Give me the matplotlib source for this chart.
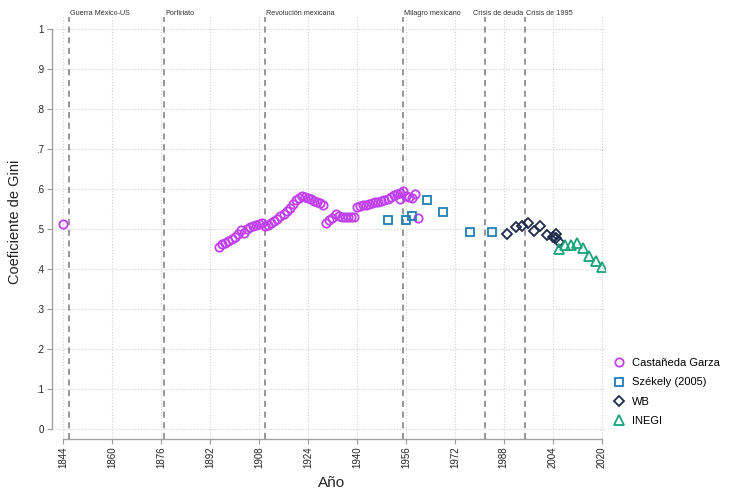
import matplotlib
matplotlib.use("Agg")
import matplotlib.pyplot as plt

plt.rcParams["font.family"] = ["Liberation Sans", "DejaVu Sans"]

# Castañeda Garza
cg_years = [1844,
            1895, 1896, 1897, 1898, 1899, 1900, 1901, 1902, 1903, 1904,
            1905, 1906, 1907, 1908, 1909, 1910, 1911, 1912, 1913, 1914,
            1915, 1916, 1917, 1918, 1919, 1920, 1921, 1922, 1923, 1924,
            1925, 1926, 1927, 1928, 1929, 1930, 1931, 1932, 1933, 1934,
            1935, 1936, 1937, 1938, 1939, 1940, 1941, 1942, 1943, 1944,
            1945, 1946, 1947, 1948, 1949, 1950, 1951, 1952, 1953, 1954,
            1955, 1954, 1956, 1957, 1958, 1959, 1960]
cg_gini = [0.512,
           0.455, 0.463, 0.466, 0.469, 0.475, 0.480, 0.487, 0.497, 0.490, 0.500,
           0.506, 0.508, 0.509, 0.513, 0.516, 0.508, 0.511, 0.515, 0.520, 0.526,
           0.532, 0.538, 0.545, 0.553, 0.563, 0.573, 0.577, 0.583, 0.579, 0.577,
           0.574, 0.571, 0.568, 0.565, 0.561, 0.515, 0.522, 0.527, 0.537, 0.532,
           0.530, 0.529, 0.529, 0.529, 0.529, 0.555, 0.557, 0.559, 0.561, 0.563,
           0.565, 0.567, 0.568, 0.570, 0.573, 0.576, 0.580, 0.585, 0.588, 0.590,
           0.596, 0.574, 0.582, 0.580, 0.578, 0.587, 0.528]

# Székely (2005)
sz_years = [1950, 1956, 1958, 1963, 1968, 1977, 1984]
sz_gini = [0.522, 0.522, 0.533, 0.573, 0.543, 0.492, 0.492]

# World Bank
wb_years = [1989, 1992, 1994, 1996, 1998, 2000, 2002, 2004, 2005, 2005, 2006]
wb_gini = [0.487, 0.506, 0.507, 0.514, 0.496, 0.507, 0.485, 0.481, 0.487, 0.478, 0.468]

# INEGI
inegi_years = [2006, 2008, 2010, 2012, 2014, 2016, 2018, 2020]
inegi_gini = [0.449, 0.460, 0.460, 0.464, 0.452, 0.432, 0.421, 0.406]

events = ["Guerra México-US", "Porfiriato", "Revolución mexicana",
          "Milagro mexicano", "Crisis de deuda", "Crisis de 1995"]
event_years = [1846, 1877, 1910, 1955, 1982, 1995]
# where each label starts (the debt-crisis label sits left of its line)
label_years = [1846, 1877, 1910, 1955, 1977.6, 1995]

x_ticks = list(range(1844, 2021, 16))
y_ticks = [0, 0.1, 0.2, 0.3, 0.4, 0.5, 0.6, 0.7, 0.8, 0.9, 1]
y_labels = ["0", ".1", ".2", ".3", ".4", ".5", ".6", ".7", ".8", ".9", "1"]

fig = plt.figure(figsize=(7.32, 4.96), dpi=100)
ax = fig.add_axes([0.0706, 0.1149, 0.7559, 0.8508])

ax.set_xlim(1840.2, 2021.1)
ax.set_ylim(-0.025, 1.03)

ax.grid(True, linestyle=":", color="#cfcfcf", linewidth=0.8)
ax.set_axisbelow(True)

for yr in event_years:
    ax.axvline(yr, color="#7a7a7a", linestyle=(0, (4, 3)), linewidth=1.1, zorder=1)
for name, yr in zip(events, label_years):
    ax.text(yr + 0.3, 1.038, name, fontsize=5.2, color="#333333",
            ha="left", va="center", clip_on=False)

mk = dict(linestyle="none", mfc="none", mew=1.3, zorder=3)
ax.plot(cg_years, cg_gini, marker="o", ms=6, color="#c040f0",
        label="Castañeda Garza", **mk)
ax.plot(sz_years, sz_gini, marker="s", ms=6, color="#1f7fb8",
        label="Székely (2005)", **mk)
ax.plot(wb_years, wb_gini, marker="D", ms=5.5, color="#1e2b4d",
        label="WB", **mk)
ax.plot(inegi_years, inegi_gini, marker="^", ms=6.5, color="#17a37a",
        label="INEGI", **mk)

ax.set_xticks(x_ticks)
ax.set_xticklabels([str(t) for t in x_ticks], rotation=90)
ax.set_yticks(y_ticks)
ax.set_yticklabels(y_labels)
ax.tick_params(axis="both", labelsize=7, color="#999999", length=3.5,
               width=0.8, labelcolor="#222222", pad=2)

for s in ["top", "right"]:
    ax.spines[s].set_visible(False)
ax.spines["left"].set_bounds(0, 1)
ax.spines["bottom"].set_bounds(1844, 2020)
for s in ["left", "bottom"]:
    ax.spines[s].set_color("#a0a0a0")
    ax.spines[s].set_linewidth(1.0)

fig.text(332 / 732, 1 - 483 / 496, "Año", ha="center", va="center",
         fontsize=11, color="#222222")
fig.text(15 / 732, 1 - 222 / 496, "Coeficiente de Gini", ha="center",
         va="center", rotation=90, fontsize=10.5, color="#222222")

fig.legend(loc="upper left", bbox_to_anchor=(612 / 732, 1 - 358 / 496),
           frameon=False, fontsize=8, handlelength=1.2, handletextpad=0.6,
           labelspacing=0.85, borderpad=0, borderaxespad=0)

fig.savefig("out.png", dpi=100)
